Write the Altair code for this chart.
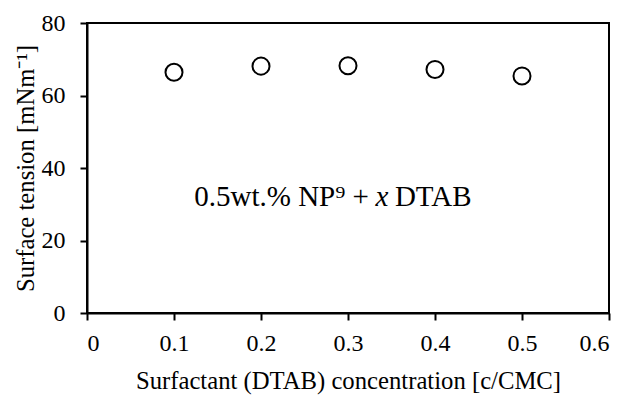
import altair as alt
import pandas as pd

conc = [0.1, 0.2, 0.3, 0.4, 0.5]
tension = [66.4, 68.1, 68.2, 67.2, 65.4]

df = pd.DataFrame({"c": conc, "t": tension})
ann = pd.DataFrame({"c": [0.339], "t": [29.5]})

FONT = "Liberation Serif"

common = dict(grid=False, domainColor="black", domainWidth=2,
              tickColor="black", tickWidth=2, tickSize=7,
              labelFont=FONT, labelFontSize=24, labelColor="black",
              titleFont=FONT, titleFontSize=24.7, titleColor="black",
              titleFontWeight="normal")

x = alt.X("c:Q", scale=alt.Scale(domain=[0, 0.6], nice=False),
          axis=alt.Axis(title="Surfactant (DTAB) concentration [c/CMC]",
                        values=[0, 0.1, 0.2, 0.3, 0.4, 0.5, 0.6],
                        format="~g", labelPadding=11, titlePadding=13,
                        **common))
y = alt.Y("t:Q", scale=alt.Scale(domain=[0, 80], nice=False),
          axis=alt.Axis(title="Surface tension [mNm\u207b\u00b9]",
                        values=[0, 20, 40, 60, 80], labelPadding=15,
                        titlePadding=3, **common))

pts = alt.Chart(df).mark_point(shape="circle", filled=False, size=290,
                               stroke="black", strokeWidth=2,
                               opacity=1).encode(x=x, y=y)

base = alt.Chart(ann).encode(x=x, y=y)
t1 = base.mark_text(text="0.5wt.%  NP\u2079 +", align="right", dx=-13,
                    font=FONT, fontSize=29, color="black",
                    baseline="alphabetic")
t2 = base.mark_text(text="x", align="center", font=FONT, fontSize=29,
                    fontStyle="italic", color="black", baseline="alphabetic")
t3 = base.mark_text(text="DTAB", align="left", dx=13, font=FONT, fontSize=29,
                    color="black", baseline="alphabetic")

chart = alt.layer(pts, t1, t2, t3).properties(
    width=522, height=290,
    autosize=alt.AutoSizeParams(type="none"),
    padding={"left": 87, "top": 23, "right": 19, "bottom": 84},
).configure_view(stroke="black", strokeWidth=2)

chart.save("out.html", embed_options={"renderer": "svg", "actions": False})
